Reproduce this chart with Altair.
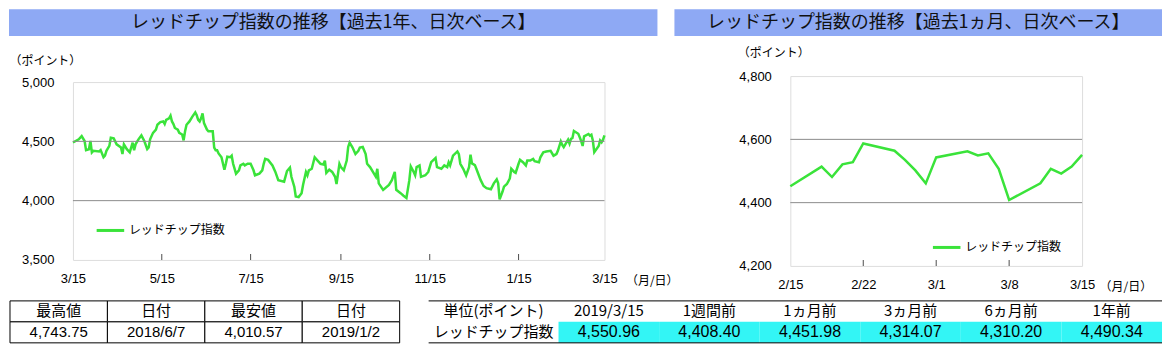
import altair as alt
import pandas as pd

FONT_JP = "Noto Sans CJK JP"
FONT_NUM = "Liberation Sans"
GREEN = "#3AE33A"
BAR = "#8EA9F4"
CYAN = "#33F5F5"
GRID = "#8C8C8C"

title_year = "レッドチップ指数の推移【過去1年、日次ベース】"
title_month = "レッドチップ指数の推移【過去1ヵ月、日次ベース】"
series_name = "レッドチップ指数"
y_unit = "（ポイント）"
x_unit = "（月/日）"

# ---- 1-year series (day offsets from start date, values) ----
year_start = "2018-03-15"
year_day_offsets = [
    0, 4, 6, 8, 9, 11, 12, 13, 14, 18, 19, 21, 22, 23, 25, 26, 28, 30, 33, 34,
    35, 37, 39, 41, 42, 43, 45, 47, 49, 51, 52, 53, 55, 57, 58, 60, 62, 63, 64, 66,
    67, 68, 69, 70, 72, 73, 75, 76, 77, 78, 80, 82, 84, 85, 86, 87, 88, 89, 90, 92,
    93, 96, 97, 98, 99, 100, 102, 104, 105, 106, 108, 109, 110, 112, 114, 115, 117, 118, 120, 122,
    124, 125, 128, 130, 131, 132, 134, 137, 139, 141, 145, 147, 149, 150, 152, 153, 155, 157, 158, 160,
    161, 162, 164, 166, 168, 170, 172, 173, 174, 176, 178, 180, 181, 183, 184, 186, 188, 189, 190, 192,
    194, 196, 197, 199, 201, 202, 204, 206, 208, 209, 210, 213, 217, 219, 221, 222, 225, 227, 229, 231,
    232, 234, 235, 236, 238, 239, 242, 244, 246, 249, 250, 253, 255, 257, 258, 259, 261, 264, 265, 266,
    268, 270, 272, 273, 274, 276, 277, 280, 282, 284, 287, 289, 291, 292, 293, 295, 296, 298, 300, 301,
    303, 304, 306, 307, 309, 311, 312, 314, 316, 317, 320, 321, 323, 325, 328, 330, 332, 333, 335, 336,
    337, 340, 341, 342, 343, 344, 347, 348, 349, 350, 351, 354, 355, 356, 357, 358, 361, 362, 363, 364,
    365,
]
year_values = [
    4490.34, 4517, 4544, 4503, 4426, 4434, 4503, 4407, 4420, 4415, 4426, 4366, 4379, 4420, 4462, 4530, 4525, 4475, 4448, 4393,
    4475, 4434, 4407, 4489, 4426, 4475, 4517, 4550, 4503, 4434, 4448, 4517, 4572, 4599, 4640, 4662, 4668, 4646, 4681, 4695,
    4717, 4668, 4646, 4613, 4599, 4572, 4558, 4508, 4585, 4640, 4668, 4709, 4743.75, 4720, 4681, 4668, 4695, 4736, 4654, 4599,
    4585, 4585, 4448, 4426, 4426, 4398, 4366, 4261, 4311, 4371, 4366, 4379, 4311, 4228, 4256, 4297, 4311, 4297, 4311, 4311,
    4256, 4214, 4228, 4256, 4311, 4352, 4344, 4297, 4242, 4173, 4160, 4250, 4278, 4201, 4118, 4036, 4030, 4063, 4132, 4242,
    4214, 4256, 4269, 4366, 4338, 4311, 4305, 4338, 4234, 4261, 4242, 4201, 4140, 4310.20, 4283, 4256, 4338, 4453, 4489, 4448,
    4393, 4420, 4448, 4453, 4393, 4311, 4283, 4242, 4201, 4269, 4146, 4091, 4132, 4173, 4242, 4091, 4063, 4041, 4022, 4173,
    4289, 4242, 4214, 4283, 4297, 4201, 4214, 4242, 4324, 4360, 4283, 4269, 4297, 4283, 4324, 4297, 4379, 4415, 4393, 4311,
    4269, 4214, 4283, 4388, 4314.07, 4300, 4269, 4173, 4124, 4105, 4096, 4146, 4179, 4146, 4010.57, 4077, 4118, 4140, 4187, 4269,
    4242, 4234, 4311, 4344, 4324, 4297, 4338, 4338, 4352, 4333, 4324, 4366, 4407, 4415, 4420, 4379, 4393, 4420, 4500, 4470,
    4451.98, 4514, 4481, 4521, 4528, 4587, 4564, 4535, 4502, 4461, 4543, 4562, 4549, 4556, 4507, 4408.40, 4461, 4507, 4492, 4514,
    4550.96,
]

# ---- 1-month series ----
month_dates = [
    "2019-02-15", "2019-02-18", "2019-02-19", "2019-02-20", "2019-02-21", "2019-02-22",
    "2019-02-25", "2019-02-26", "2019-02-27", "2019-02-28", "2019-03-01",
    "2019-03-04", "2019-03-05", "2019-03-06", "2019-03-07", "2019-03-08",
    "2019-03-11", "2019-03-12", "2019-03-13", "2019-03-14", "2019-03-15",
]
month_values = [
    4451.98, 4514, 4481, 4521, 4528, 4587,
    4564, 4535, 4502, 4461, 4543,
    4562, 4549, 4556, 4507, 4408.40,
    4461, 4507, 4492, 4514, 4550.96,
]

year_tick_dates = ["2018-03-15", "2018-05-15", "2018-07-15", "2018-09-15",
                   "2018-11-15", "2019-01-15", "2019-03-15"]
month_tick_dates = ["2019-02-15", "2019-02-22", "2019-03-01", "2019-03-08", "2019-03-15"]
year_y_ticks = [3500, 4000, 4500, 5000]
month_y_ticks = [4200, 4400, 4600, 4800]
year_grid = [4000, 4500]
month_grid = [4400, 4600]

left_table_headers = ["最高値", "日付", "最安値", "日付"]
left_table_values = ["4,743.75", "2018/6/7", "4,010.57", "2019/1/2"]
right_table_headers = ["単位(ポイント)", "2019/3/15", "1週間前", "1ヵ月前", "3ヵ月前", "6ヵ月前", "1年前"]
right_table_label = "レッドチップ指数"
right_table_values = [4550.96, 4408.40, 4451.98, 4314.07, 4310.20, 4490.34]

assert len(year_day_offsets) == len(year_values)
assert len(month_dates) == len(month_values)


def to_dt(s):
    d = pd.Timestamp(s)
    return alt.DateTime(year=d.year, month=d.month, date=d.day)


year_df = pd.DataFrame({
    "date": pd.Timestamp(year_start) + pd.to_timedelta(year_day_offsets, unit="D"),
    "value": year_values,
    "series": series_name,
})
month_df = pd.DataFrame({
    "date": pd.to_datetime(month_dates),
    "value": month_values,
    "series": series_name,
})


def line_layers(df, tick_dates, y_ticks, grid_vals, h, legend_xy, xunit_x, yunit_x, yunit_y):
    x_scale = alt.Scale(domain=[to_dt(tick_dates[0]), to_dt(tick_dates[-1])], nice=False)
    y_scale = alt.Scale(domain=[y_ticks[0], y_ticks[-1]], nice=False, zero=False)
    tick_df = pd.DataFrame({"d": pd.to_datetime(tick_dates[1:-1])})
    grid = alt.Chart(pd.DataFrame({"v": grid_vals})).mark_rule(color=GRID, strokeWidth=1).encode(
        y=alt.Y("v:Q", scale=y_scale, axis=None)
    )
    ticks = alt.Chart(tick_df).mark_tick(color="black", size=6, thickness=1).encode(
        x=alt.X("d:T", scale=x_scale, axis=None),
        y=alt.value(h - 3),
    )
    line = alt.Chart(df).mark_line(strokeWidth=2.5).encode(
        x=alt.X("date:T", scale=x_scale, axis=alt.Axis(
            values=[to_dt(t) for t in tick_dates], format="%-m/%-d",
            labelFont=FONT_NUM, labelFontSize=13, labelColor="black", labelPadding=13,
            labelFlush=False, labelOverlap=False,
            ticks=False, domain=False, grid=False,
            title=x_unit, titleFont=FONT_JP, titleFontSize=12, titleFontWeight="normal",
            titleColor="black", titleAngle=0, titleAlign="left", titleBaseline="middle",
            titleX=xunit_x, titleY=21,
        )),
        y=alt.Y("value:Q", scale=y_scale, axis=alt.Axis(
            values=y_ticks, format=",.0f",
            labelFont=FONT_NUM, labelFontSize=13, labelColor="black", labelPadding=19,
            labelFlush=False, ticks=False, domain=False, grid=False,
            title=y_unit, titleFont=FONT_JP, titleFontSize=12, titleFontWeight="normal",
            titleColor="black", titleAngle=0, titleAlign="left", titleBaseline="middle",
            titleX=yunit_x, titleY=yunit_y,
        )),
        color=alt.Color("series:N", scale=alt.Scale(domain=[series_name], range=[GREEN]),
                        legend=alt.Legend(
                            title=None, orient="none", legendX=legend_xy[0], legendY=legend_xy[1],
                            symbolType="stroke", symbolStrokeWidth=3, symbolSize=760,
                            labelFont=FONT_JP, labelFontSize=12, labelColor="black",
                            labelOffset=3, padding=0,
                        )),
    )
    return [line, grid, ticks]


def title_layers(text, x0, x1, y0, y1):
    d = pd.DataFrame({"t": [text]})
    rect = alt.Chart(d).mark_rect(fill=BAR).encode(
        x=alt.value(x0), x2=alt.value(x1), y=alt.value(y0), y2=alt.value(y1)
    )
    txt = alt.Chart(d).mark_text(font=FONT_JP, fontSize=18, color="#111111",
                                 align="center", baseline="middle").encode(
        x=alt.value((x0 + x1) / 2), y=alt.value((y0 + y1) / 2), text="t:N"
    )
    return [rect, txt]


# ---- left table ----
lt_df = pd.DataFrame({
    "col": list(range(4)) * 2,
    "row": [0] * 4 + [1] * 4,
    "text": left_table_headers + left_table_values,
    "kind": ["jp"] * 4 + ["num"] * 4,
})
lt_x = alt.Scale(domain=[0, 4], range=[-63, 327], nice=False, zero=False)
lt_y = alt.Scale(domain=[0, 2], range=[219, 261], nice=False, zero=False)
lt_base = alt.Chart(lt_df).transform_calculate(
    col_end="datum.col + 1", row_end="datum.row + 1",
    col_mid="datum.col + 0.5", row_mid="datum.row + 0.5",
)
lt_cells = lt_base.mark_rect(fill="white", stroke="black", strokeWidth=1).encode(
    x=alt.X("col:Q", scale=lt_x, axis=None), x2="col_end:Q",
    y=alt.Y("row:Q", scale=lt_y, axis=None), y2="row_end:Q",
)
lt_text_jp = lt_base.transform_filter("datum.kind == 'jp'").mark_text(
    font=FONT_JP, fontSize=15, color="black", baseline="middle").encode(
    x=alt.X("col_mid:Q", scale=lt_x, axis=None),
    y=alt.Y("row_mid:Q", scale=lt_y, axis=None), text="text:N")
lt_text_num = lt_base.transform_filter("datum.kind == 'num'").mark_text(
    font=FONT_NUM, fontSize=15, color="black", baseline="middle").encode(
    x=alt.X("col_mid:Q", scale=lt_x, axis=None),
    y=alt.Y("row_mid:Q", scale=lt_y, axis=None), text="text:N")
left_table = [lt_cells, lt_text_jp, lt_text_num]

# ---- right table ----
rt_df = pd.DataFrame({
    "col": list(range(7)) * 2,
    "row": [0] * 7 + [1] * 7,
    "text": right_table_headers + [right_table_label] + [f"{v:,.2f}" for v in right_table_values],
    "kind": ["jp"] * 7 + ["jp"] + ["num"] * 6,
})
rt_x = alt.Scale(domain=[0, 1, 7], range=[-362, -232, 372], nice=False, zero=False)
rt_y = alt.Scale(domain=[0, 2], range=[225, 267], nice=False, zero=False)
rt_base = alt.Chart(rt_df).transform_calculate(
    col_end="datum.col + 1", row_end="datum.row + 1",
    col_mid="datum.col + 0.5", row_mid="datum.row + 0.5",
)
rt_fill = rt_base.transform_filter("datum.kind == 'num'").mark_rect(fill=CYAN).encode(
    x=alt.X("col:Q", scale=rt_x, axis=None), x2="col_end:Q",
    y=alt.Y("row:Q", scale=rt_y, axis=None), y2="row_end:Q",
)
rt_lines = alt.Chart(pd.DataFrame({"c0": [0, 0], "c1": [7, 7], "r": [0, 2]})).mark_rule(
    color="black", strokeWidth=1).encode(
    x=alt.X("c0:Q", scale=rt_x, axis=None), x2="c1:Q",
    y=alt.Y("r:Q", scale=rt_y, axis=None),
)
rt_text_jp = rt_base.transform_filter("datum.kind == 'jp'").mark_text(
    font=FONT_JP, fontSize=15, color="black", baseline="middle").encode(
    x=alt.X("col_mid:Q", scale=rt_x, axis=None),
    y=alt.Y("row_mid:Q", scale=rt_y, axis=None), text="text:N")
rt_text_num = rt_base.transform_filter("datum.kind == 'num'").mark_text(
    font="Liberation Sans Narrow, Liberation Sans", fontSize=16, color="black", baseline="middle").encode(
    x=alt.X("col_mid:Q", scale=rt_x, axis=None),
    y=alt.Y("row_mid:Q", scale=rt_y, axis=None), text="text:N")
right_table = [rt_fill, rt_lines, rt_text_jp, rt_text_num]

# ---- panels ----
LW, LH = 532, 178
RW, RH = 292, 190

left = alt.layer(
    *line_layers(year_df, year_tick_dates, year_y_ticks, year_grid, LH, (22, 133), 553, -64, -22),
    *title_layers(title_year, -64, 585, -73, -46),
    *left_table,
).resolve_scale(x="independent", y="independent").properties(width=LW, height=LH)

right = alt.layer(
    *line_layers(month_df, month_tick_dates, month_y_ticks, month_grid, RH, (141, 156), 309, -53, -24),
    *title_layers(title_month, -116, 372, -67, -40),
    *right_table,
).resolve_scale(x="independent", y="independent").properties(width=RW, height=RH)

chart = alt.hconcat(left, right, spacing=186, center=True, bounds="flush").resolve_scale(
    color="independent"
).resolve_legend(color="independent").configure_view(
    stroke="black", strokeWidth=1
).configure(font=FONT_JP).properties(padding=0, background="white")

chart.save("out.html", embed_options={"renderer": "svg", "actions": False})
